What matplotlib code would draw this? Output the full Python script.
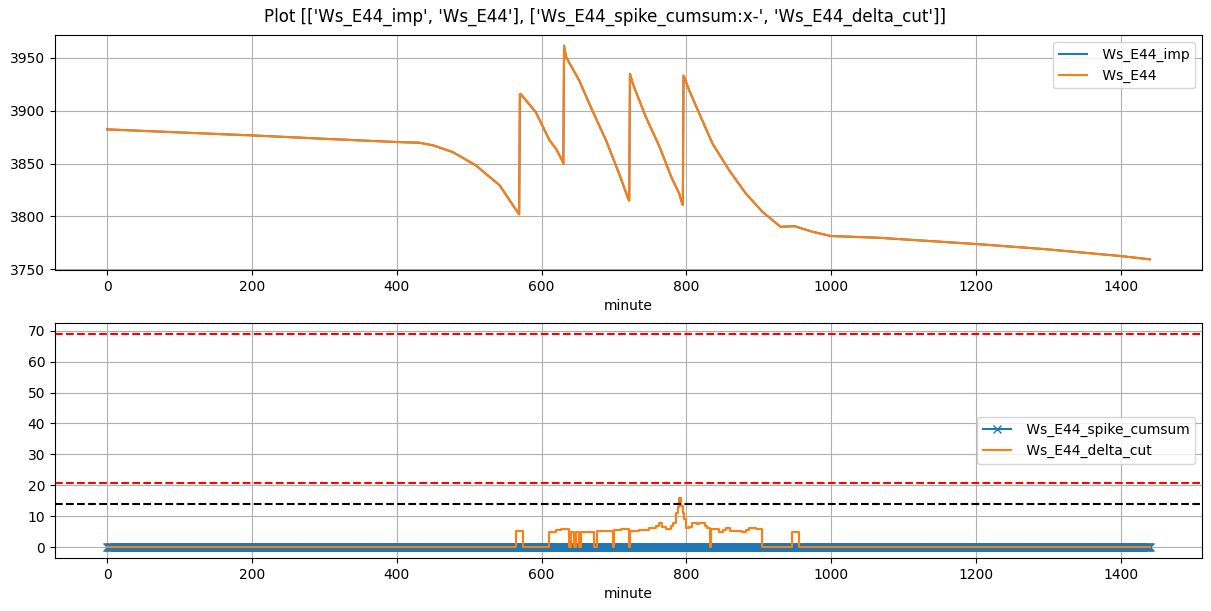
import matplotlib
matplotlib.use("Agg")
import matplotlib.pyplot as plt
import numpy as np

# top panel: Ws_E44 (imp and raw are the same trace)
ws_minute = [0, 100, 200, 300, 400, 431, 450, 477, 509, 542, 568, 569,
             570, 571, 592, 611, 620, 629, 630,
             631, 634, 652, 670, 689, 707, 720, 721,
             722, 726, 744, 763, 779, 790, 794, 795,
             796, 804, 818, 836, 859, 882, 905, 930, 949, 974, 999,
             1066, 1200, 1296, 1400, 1440]
ws_value = [3882.4, 3879.5, 3876.7, 3873.5, 3870.4, 3869.8, 3867.3, 3861.0, 3848.4, 3829.5, 3802.8, 3802.0,
            3915.5, 3916.0, 3898.7, 3872.0, 3864.0, 3852.0, 3850.0,
            3961.6, 3950.6, 3928.6, 3900.3, 3872.0, 3840.6, 3816.0, 3815.0,
            3935.0, 3925.5, 3894.0, 3865.7, 3837.4, 3821.7, 3812.3, 3811.0,
            3933.3, 3919.0, 3897.0, 3868.9, 3843.7, 3821.7, 3804.3, 3790.2, 3790.8, 3785.5, 3781.5,
            3779.8, 3773.9, 3769.0, 3762.5, 3759.4]

# bottom panel: delta_cut as steps (value holds until next minute)
delta_minute = [0, 565, 574, 610, 620, 627, 638, 640, 645, 648, 652, 655, 672, 676,
                698, 700, 710, 720, 722, 735, 748, 758, 762, 766, 772, 778, 781,
                785, 788, 790, 792, 795, 797, 800, 804, 808, 814, 818, 825, 829,
                832, 834, 845, 850, 855, 860, 864, 877, 882, 887, 896, 904, 946,
                955, 1440]
delta_value = [0, 5.3, 0, 4.8, 5.6, 6.0, 0, 4.8, 0, 4.8, 0, 5.0, 0, 5.2,
               0, 5.6, 6.0, 0, 5.3, 5.6, 6.2, 6.8, 7.8, 6.5, 6.0, 6.8, 7.8,
               11.0, 13.0, 15.9, 13.2, 11.0, 9.0, 6.2, 6.7, 7.8, 7.5, 8.0, 7.0, 6.3,
               0, 5.8, 5.0, 5.6, 6.2, 5.4, 5.2, 4.9, 5.6, 6.2, 5.9, 0, 5.0,
               0, 0]

spike_minute = np.arange(0, 1441)
spike_cumsum = np.zeros(len(spike_minute))

red_levels = [69.0, 20.7]
black_level = 14.0

fig, (ax1, ax2) = plt.subplots(2, 1, figsize=(12.11, 6.11), dpi=100)
fig.subplots_adjust(left=0.0454, right=0.9926, top=0.9427, bottom=0.0867, hspace=0.2255)
fig.suptitle("Plot [['Ws_E44_imp', 'Ws_E44'], ['Ws_E44_spike_cumsum:x-', 'Ws_E44_delta_cut']]",
             y=0.987)

ax1.plot(ws_minute, ws_value, color="C0", label=" Ws_E44_imp")
ax1.plot(ws_minute, ws_value, color="C1", label=" Ws_E44")
ax1.set_xlabel("minute")
ax1.grid(True)
ax1.legend(loc="upper right")

ax2.plot(spike_minute, spike_cumsum, "x-", color="C0", label=" Ws_E44_spike_cumsum")
ax2.step(delta_minute, delta_value, where="post", color="C1", label=" Ws_E44_delta_cut")
for lvl in red_levels:
    ax2.axhline(lvl, color="r", linestyle="--")
ax2.axhline(black_level, color="k", linestyle="--")
ax2.set_xlabel("minute")
ax2.grid(True)
ax2.legend(loc="center right")

fig.savefig("out.png", dpi=100)
